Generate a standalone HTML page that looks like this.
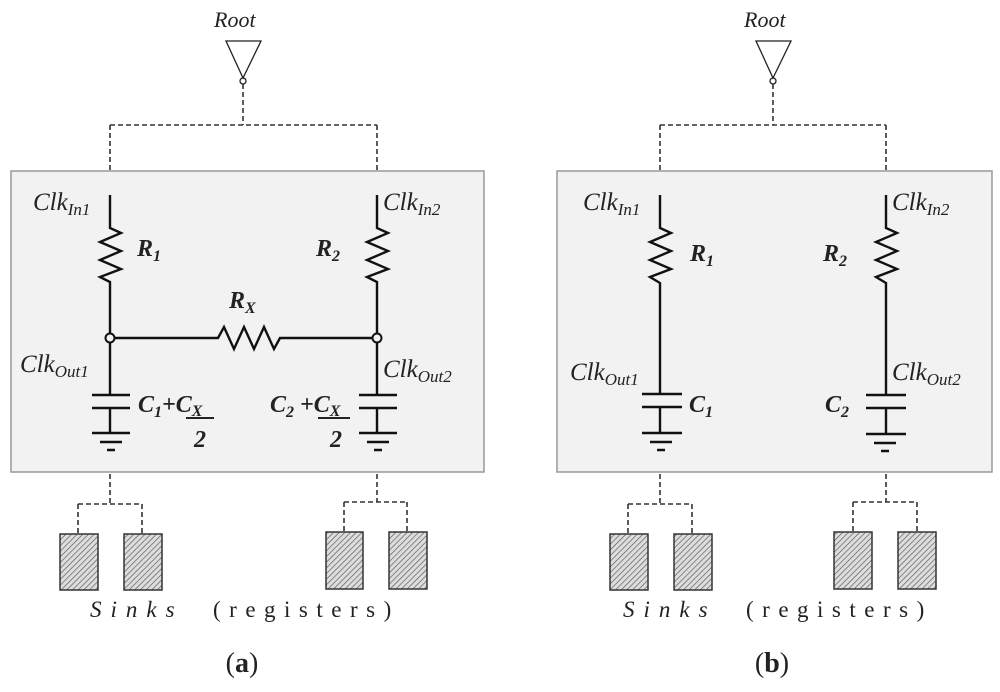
<!DOCTYPE html>
<html><head><meta charset="utf-8"><style>
html,body{margin:0;padding:0;background:#fff;}
svg{display:block;}
text{font-family:"Liberation Serif",serif;fill:#222;}
.it{font-style:italic;}
</style></head><body>
<svg width="1000" height="692" viewBox="0 0 1000 692" xmlns="http://www.w3.org/2000/svg">
<defs>
<pattern id="h" width="4" height="4" patternUnits="userSpaceOnUse" patternTransform="rotate(45)">
<rect width="4" height="4" fill="#ddd"/><line x1="0" y1="0" x2="0" y2="4" stroke="#555" stroke-width="1.3"/>
</pattern>
</defs>
<g fill="none" stroke="#333" stroke-width="1.6" stroke-dasharray="5,3">
<path d="M243 84V125M110 125H377M110 125V171M377 125V171"/>
<path d="M110 474V504M78 504H142M78 504V534M142 504V534"/>
<path d="M377 474V502M344 502H407M344 502V532M407 502V532"/>
<path d="M773 84V125M660 125H886M660 125V171M886 125V171"/>
<path d="M660 474V504M628 504H692M628 504V534M692 504V534"/>
<path d="M886 474V502M853 502H917M853 502V532M917 502V532"/>
</g>
<rect x="11" y="171" width="473" height="301" fill="#f2f2f2" stroke="#999" stroke-width="1.5"/>
<rect x="557" y="171" width="435" height="301" fill="#f2f2f2" stroke="#999" stroke-width="1.5"/>
<g fill="none" stroke="#222" stroke-width="1.3">
<path d="M226 41H261L243 78Z"/><circle cx="243" cy="81" r="3"/>
<path d="M756 41H791L773 78Z"/><circle cx="773" cy="81" r="3"/>
</g>
<g fill="none" stroke="#111" stroke-width="2.4" stroke-linejoin="miter">
<path d="M110 195V228L121 233L100 242L121 251L100 260L121 269L100 277L110 282V334"/>
<path d="M377 195V228L388 233L367 242L388 251L367 260L388 269L367 277L377 282V334"/>
<path d="M114 338H218L224 327L234 349L244 327L254 349L264 327L274 349L280 338H373"/>
<path d="M110 342V395M92 395H130M92 408H130M110 408V433M92 433H130M100 442H122M107 450H115"/>
<path d="M377 342V395M359 395H397M359 408H397M377 408V433M359 433H397M367 442H389M374 450H382"/>
<path d="M660 195V228L671 233L650 242L671 251L650 260L671 269L650 277L660 283V395"/>
<path d="M886 195V228L897 233L876 242L897 251L876 260L897 269L876 277L886 283V395"/>
<path d="M642 394H682M642 407H682M660 407V433M642 433H682M650 442H672M657 450H665"/>
<path d="M866 395H906M866 408H906M886 408V434M866 434H906M874 443H896M881 451H889"/>
</g>
<g fill="none" stroke="#111" stroke-width="2">
<circle cx="110" cy="338" r="4.5"/><circle cx="377" cy="338" r="4.5"/>
</g>
<g fill="url(#h)" stroke="#333" stroke-width="1.5">
<rect x="60" y="534" width="38" height="56"/><rect x="124" y="534" width="38" height="56"/>
<rect x="326" y="532" width="37" height="57"/><rect x="389" y="532" width="38" height="57"/>
<rect x="610" y="534" width="38" height="56"/><rect x="674" y="534" width="38" height="56"/>
<rect x="834" y="532" width="38" height="57"/><rect x="898" y="532" width="38" height="57"/>
</g>
<g font-size="22">
<text x="214" y="27" class="it">Root</text>
<text x="744" y="27" class="it">Root</text>
</g>
<g font-size="25">
<text x="33" y="210" class="it">Clk<tspan font-size="17" dy="5">In1</tspan></text>
<text x="383" y="210" class="it">Clk<tspan font-size="17" dy="5">In2</tspan></text>
<text x="20" y="372" class="it">Clk<tspan font-size="17" dy="5">Out1</tspan></text>
<text x="383" y="377" class="it">Clk<tspan font-size="17" dy="5">Out2</tspan></text>
<text x="583" y="210" class="it">Clk<tspan font-size="17" dy="5">In1</tspan></text>
<text x="892" y="210" class="it">Clk<tspan font-size="17" dy="5">In2</tspan></text>
<text x="570" y="380" class="it">Clk<tspan font-size="17" dy="5">Out1</tspan></text>
<text x="892" y="380" class="it">Clk<tspan font-size="17" dy="5">Out2</tspan></text>
</g>
<g font-size="24" font-style="italic" font-weight="bold">
<text x="137" y="256">R<tspan font-size="16" dy="5">1</tspan></text>
<text x="316" y="256">R<tspan font-size="16" dy="5">2</tspan></text>
<text x="229" y="308">R<tspan font-size="16" dy="5">X</tspan></text>
<text x="138" y="412">C<tspan font-size="16" dy="5">1</tspan><tspan dy="-5">+</tspan><tspan>C<tspan font-size="16" dy="4">X</tspan></tspan></text>
<text x="270" y="412">C<tspan font-size="16" dy="5">2</tspan><tspan dy="-5"> +</tspan><tspan>C<tspan font-size="16" dy="4">X</tspan></tspan></text>
<text x="194" y="447">2</text>
<text x="330" y="447">2</text>
<line x1="186" y1="418" x2="214" y2="418" stroke="#222" stroke-width="2"/>
<line x1="318" y1="418" x2="350" y2="418" stroke="#222" stroke-width="2"/>
<text x="690" y="261">R<tspan font-size="16" dy="5">1</tspan></text>
<text x="823" y="261">R<tspan font-size="16" dy="5">2</tspan></text>
<text x="689" y="412">C<tspan font-size="16" dy="5">1</tspan></text>
<text x="825" y="412">C<tspan font-size="16" dy="5">2</tspan></text>
</g>
<g font-size="23" fill="#333">
<text x="90" y="617" letter-spacing="9" class="it">Sinks</text>
<text x="213" y="617" letter-spacing="8.5">(registers)</text>
<text x="623" y="617" letter-spacing="9" class="it">Sinks</text>
<text x="746" y="617" letter-spacing="8.5">(registers)</text>
</g>
<text x="242" y="672" font-size="28" text-anchor="middle">(<tspan font-weight="bold">a</tspan>)</text>
<text x="772" y="672" font-size="28" text-anchor="middle">(<tspan font-weight="bold">b</tspan>)</text>
</svg>
</body></html>
